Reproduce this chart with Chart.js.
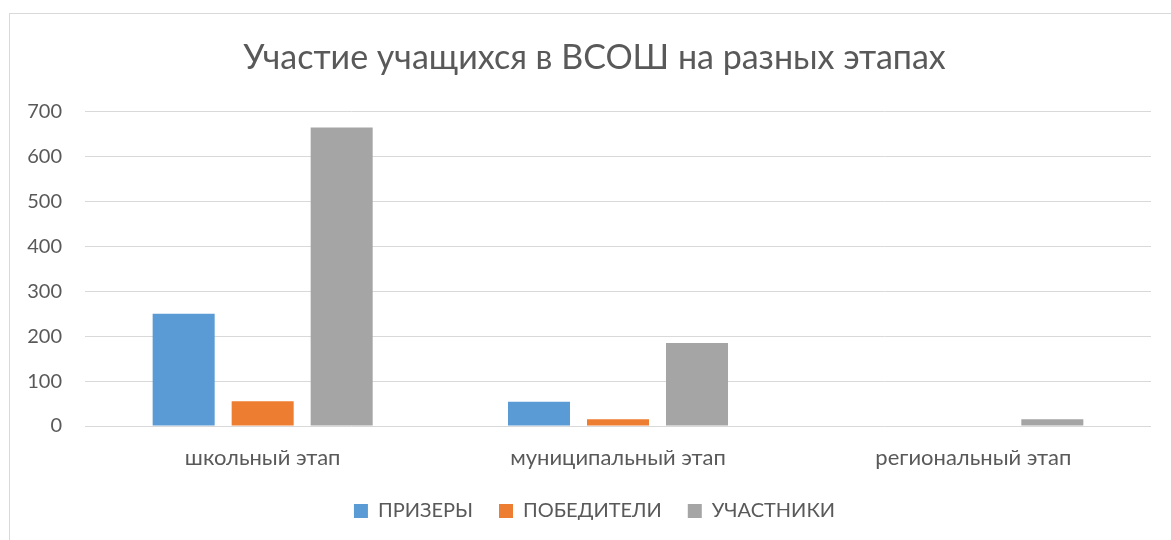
<!DOCTYPE html>
<html>
<head>
<meta charset="utf-8">
<script src="https://cdn.jsdelivr.net/npm/chart.js@4.4.1/dist/chart.umd.min.js"></script>
<style>
  html, body { margin: 0; padding: 0; background: #fff; }
  #wrap { position: relative; width: 1171px; height: 540px; overflow: hidden; }
  #frame { position: absolute; left: 9px; top: 13px; width: 1200px; height: 600px; border: 1px solid #d9d9d9; box-sizing: border-box; }
  canvas { position: absolute; left: 0; top: 0; }
</style>
</head>
<body>
<div id="wrap">
  <div id="frame"></div>
  <canvas id="c" width="1171" height="540"></canvas>
</div>
<script>
const chartTitle = "Участие учащихся в ВСОШ на разных этапах";
const categories = ["школьный этап", "муниципальный этап", "региональный этап"];
const seriesNames = ["ПРИЗЕРЫ", "ПОБЕДИТЕЛИ", "УЧАСТНИКИ"];
const prizers = [250, 54, 0];
const winners = [55, 15, 0];
const participants = [665, 185, 15];
const yTicks = [0, 100, 200, 300, 400, 500, 600, 700];
const colors = ["#5B9BD5", "#ED7D31", "#A5A5A5"];

const textColor = "#595959";
const fontFamily = "Lato, 'Open Sans', sans-serif";

// widen the y-axis label clip box to the canvas edge (labels sit left of the layout padding)
const widenYLabels = {
  id: 'widenYLabels',
  afterLayout(chart) { chart.scales.y.left = 0; }
};

new Chart(document.getElementById('c'), {
  type: 'bar',
  data: {
    labels: categories,
    datasets: [prizers, winners, participants].map((d, i) => ({
      label: seriesNames[i],
      data: d,
      backgroundColor: colors[i],
      borderWidth: 0,
      categoryPercentage: 0.667,
      barPercentage: 0.785
    }))
  },
  plugins: [widenYLabels],
  options: {
    responsive: false,
    animation: false,
    layout: { padding: { left: 38, right: 20, top: 0, bottom: 9 } },
    plugins: {
      title: {
        display: true,
        text: chartTitle,
        color: textColor,
        font: { family: fontFamily, size: 34, weight: 'normal' },
        padding: { top: 38, bottom: 33 }
      },
      legend: {
        position: 'bottom',
        labels: {
          color: textColor,
          font: { family: fontFamily, size: 20 },
          boxWidth: 14,
          boxHeight: 14,
          padding: 26
        }
      },
      tooltip: { enabled: false }
    },
    scales: {
      x: {
        grid: { display: false, drawTicks: false },
        border: { display: false },
        ticks: { color: textColor, font: { family: fontFamily, size: 22 }, padding: 19 },
        afterFit: s => { s.height = 49; }
      },
      y: {
        min: 0,
        max: 700,
        afterBuildTicks: s => { s.ticks = yTicks.map(v => ({ value: v })); },
        grid: { color: "#d9d9d9", lineWidth: 1, drawTicks: false },
        border: { display: false },
        ticks: { color: textColor, font: { family: fontFamily, size: 20 }, padding: 23 },
        afterFit: s => { s.width = 47; }
      }
    }
  }
});
</script>
</body>
</html>
